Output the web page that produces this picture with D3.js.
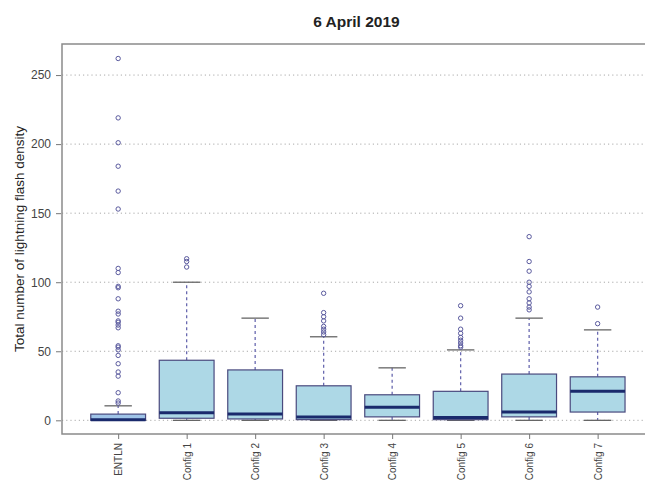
<!DOCTYPE html>
<html><head><meta charset="utf-8">
<script src="https://cdn.jsdelivr.net/npm/d3@7/dist/d3.min.js"></script>
<style>body{margin:0;background:#fff}svg{display:block;font-family:"Liberation Sans",Arial,sans-serif}</style>
</head><body><svg id="c" width="645" height="484"></svg>
<script>
const categories = ["ENTLN","Config 1","Config 2","Config 3","Config 4","Config 5","Config 6","Config 7"];
const whiskerLow = [0, 0, 0, 0, 0, 0, 0, 0];
const q1 = [0, 1.5, 1, 0.5, 2.5, 0.5, 2.5, 6];
const medians = [0.5, 5.5, 4.5, 2.5, 9.5, 2, 6, 21];
const q3 = [4.5, 43.5, 36.5, 25, 18.5, 21, 33.5, 31.5];
const whiskerHigh = [10.5, 100, 74, 60.5, 38, 51, 74, 65.5];
const outliers = [
  [262, 219, 201, 184, 166, 153, 110, 107, 97, 96, 88, 79, 77, 72, 71, 69, 67, 54, 53, 51, 47, 41, 35, 32, 20, 14, 12.5],
  [117, 115, 111],
  [],
  [92, 78, 75, 72, 68, 66, 64, 62],
  [],
  [83, 74, 66, 63, 60, 58, 56, 54, 53],
  [133, 115, 108, 100, 97, 93, 88, 85, 82, 80],
  [82, 70]
];
const yTicks = [0, 50, 100, 150, 200, 250];
const title = "6 April 2019";
const yLabel = "Total number of lightning flash density";

const svg = d3.select("#c");
const L = 62, R = 653.8, T = 44, B = 434;
const x = d3.scaleLinear().domain([0.18, categories.length + 0.82]).range([L, R]);
const y = d3.scaleLinear().domain([-9.9, 272.5]).range([B, T]);
const step = x(2) - x(1);
const bw = step * 0.8, cw = bw * 0.5;

// grid
svg.append("g").selectAll("line").data(yTicks).join("line")
  .attr("x1", L).attr("x2", R).attr("y1", d => y(d)).attr("y2", d => y(d))
  .attr("stroke", "#aaa").attr("stroke-width", 1).attr("stroke-dasharray", "1.2,3");

// frame
svg.append("rect").attr("x", L).attr("y", T).attr("width", R - L).attr("height", B - T)
  .attr("fill", "none").attr("stroke", "#8a8a8a").attr("stroke-width", 1.5);

// y axis
const ya = svg.append("g").attr("transform", `translate(${L - 1},0)`)
  .call(d3.axisLeft(y).tickValues(yTicks).tickSize(5).tickSizeOuter(0).tickPadding(5));
ya.select(".domain").remove();
ya.selectAll(".tick line").attr("stroke", "#777");
ya.selectAll(".tick text").attr("font-size", 12).attr("fill", "#444").attr("font-family", "Liberation Sans, Arial, sans-serif");

// x axis
const xa = svg.append("g").attr("transform", `translate(0,${B})`)
  .call(d3.axisBottom(x).tickValues(d3.range(1, categories.length + 1)).tickFormat(i => categories[i - 1]).tickSize(5).tickSizeOuter(0));
xa.select(".domain").remove();
xa.selectAll(".tick line").attr("stroke", "#777");
xa.selectAll(".tick text").attr("font-size", 10).attr("fill", "#444").attr("font-family", "Liberation Sans, Arial, sans-serif")
  .attr("transform", "rotate(-90)").attr("text-anchor", "end").attr("x", -9).attr("y", 0).attr("dy", "0.35em");

// boxes
const g = svg.append("g");
categories.forEach((c, i) => {
  const cx = x(i + 1);
  g.append("line").attr("x1", cx).attr("x2", cx).attr("y1", y(q3[i])).attr("y2", y(whiskerHigh[i]))
    .attr("stroke", "#6a6ab0").attr("stroke-width", 1.3).attr("stroke-dasharray", "3,3");
  g.append("line").attr("x1", cx).attr("x2", cx).attr("y1", y(q1[i])).attr("y2", y(whiskerLow[i]))
    .attr("stroke", "#6a6ab0").attr("stroke-width", 1.3).attr("stroke-dasharray", "3,3");
  [whiskerLow[i], whiskerHigh[i]].forEach(v => {
    g.append("line").attr("x1", cx - cw / 2).attr("x2", cx + cw / 2).attr("y1", y(v)).attr("y2", y(v))
      .attr("stroke", "#666").attr("stroke-width", 1.3);
  });
  g.append("rect").attr("x", cx - bw / 2).attr("width", bw)
    .attr("y", y(q3[i])).attr("height", y(q1[i]) - y(q3[i]))
    .attr("fill", i === 0 ? "#9fc4e8" : "#add8e6").attr("stroke", "#4a4a7e").attr("stroke-width", 1.2);
  g.append("line").attr("x1", cx - bw / 2).attr("x2", cx + bw / 2).attr("y1", y(medians[i])).attr("y2", y(medians[i]))
    .attr("stroke", "#1a2a6c").attr("stroke-width", 3);
  g.append("g").selectAll("circle").data(outliers[i]).join("circle")
    .attr("cx", cx).attr("cy", d => y(d)).attr("r", 2.2)
    .attr("fill", "none").attr("stroke", "#5a5a9e").attr("stroke-width", 1);
});

// title
svg.append("text").attr("x", 356.5).attr("y", 27).attr("text-anchor", "middle")
  .attr("font-size", 15.5).attr("font-weight", "bold").attr("fill", "#222").text(title);

// y label
svg.append("text").attr("transform", `translate(24,${(T + B) / 2}) rotate(-90)`).attr("text-anchor", "middle")
  .attr("font-size", 13.5).attr("fill", "#222").text(yLabel);
</script></body></html>
